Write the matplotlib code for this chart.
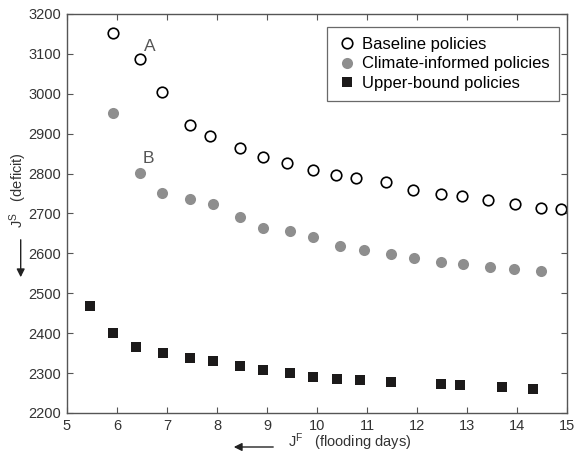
import numpy as np
import matplotlib
matplotlib.use("Agg")
from matplotlib import pyplot as plt

plt.rcParams["font.family"] = ["Liberation Sans", "DejaVu Sans"]
plt.rcParams["mathtext.fontset"] = "custom"
plt.rcParams["mathtext.rm"] = "Liberation Sans"

# baseline policies
base_x = [5.93, 6.47, 6.91, 7.46, 7.86, 8.47, 8.93, 9.40, 9.93, 10.39, 10.79,
          11.39, 11.93, 12.48, 12.91, 13.42, 13.96, 14.49, 14.88]
base_y = [3153, 3088, 3005, 2921, 2894, 2865, 2841, 2827, 2809, 2796, 2788,
          2779, 2758, 2750, 2744, 2735, 2724, 2715, 2712]

# climate-informed policies
clim_x = [5.93, 6.47, 6.91, 7.46, 7.93, 8.47, 8.93, 9.46, 9.93, 10.46, 10.95,
          11.48, 11.94, 12.48, 12.93, 13.47, 13.95, 14.49]
clim_y = [2952, 2801, 2752, 2737, 2724, 2692, 2663, 2655, 2642, 2618, 2609,
          2599, 2589, 2579, 2573, 2567, 2561, 2557]

# upper-bound policies
ub_x = [5.47, 5.93, 6.38, 6.93, 7.47, 7.93, 8.47, 8.93, 9.47, 9.93, 10.41,
        10.87, 11.48, 12.48, 12.87, 13.71, 14.33]
ub_y = [2467, 2401, 2366, 2350, 2338, 2330, 2317, 2307, 2299, 2291, 2286,
        2282, 2277, 2272, 2270, 2265, 2261]

fig = plt.figure(figsize=(5.75, 4.57), dpi=100)
ax = fig.add_axes([0.1165, 0.0963, 0.8695, 0.8731])

ax.plot(base_x, base_y, "o", ms=7.6, mfc="white", mec="black", mew=1.2,
        label="Baseline policies")
ax.plot(clim_x, clim_y, "o", ms=8, mfc="#8e8e8e", mec="#8e8e8e", mew=0,
        label="Climate-informed policies")
ax.plot(ub_x, ub_y, "s", ms=7.4, mfc="#1c1a1a", mec="#1c1a1a", mew=0,
        label="Upper-bound policies")

ax.set_xlim(5, 15)
ax.set_ylim(2200, 3200)
ax.set_xticks(np.arange(5, 16, 1))
ax.set_yticks(np.arange(2200, 3201, 100))
ax.tick_params(direction="in", top=True, right=True, length=4, width=0.8,
               colors="#555555", labelcolor="#333333", labelsize=10.5, pad=4)
for s in ax.spines.values():
    s.set_color("#555555")
    s.set_linewidth(1.0)

ax.text(6.66, 3118, "A", fontsize=12.5, color="#555555", ha="center", va="center")
ax.text(6.62, 2838, "B", fontsize=12.5, color="#555555", ha="center", va="center")

leg = ax.legend(loc="upper right", bbox_to_anchor=(0.985, 0.968), fontsize=12,
                frameon=True, fancybox=False, handletextpad=0.3,
                borderpad=0.6, labelspacing=0.28, handlelength=1.2,
                borderaxespad=0)
leg.get_frame().set_edgecolor("#444444")
leg.get_frame().set_linewidth(0.9)

# axis labels with arrows
fig.text(0.032, 1 - 228 / 457, r"$\mathrm{J^S}$   (deficit)", rotation=90,
         fontsize=10.5, color="#333333", ha="center", va="bottom")
fig.add_artist(matplotlib.patches.FancyArrowPatch(
    (0.036, 1 - 237 / 457), (0.036, 1 - 280 / 457), transform=fig.transFigure,
    arrowstyle="-|>", mutation_scale=12, color="#222222", lw=1.0))
fig.text(288 / 575, 1 - 442 / 457, r"$\mathrm{J^F}$   (flooding days)",
         fontsize=10.5, color="#333333", ha="left", va="center")
fig.add_artist(matplotlib.patches.FancyArrowPatch(
    (276 / 575, 1 - 447 / 457), (231 / 575, 1 - 447 / 457),
    transform=fig.transFigure, arrowstyle="-|>", mutation_scale=12,
    color="#222222", lw=1.0))

fig.savefig("out.png", dpi=100)
